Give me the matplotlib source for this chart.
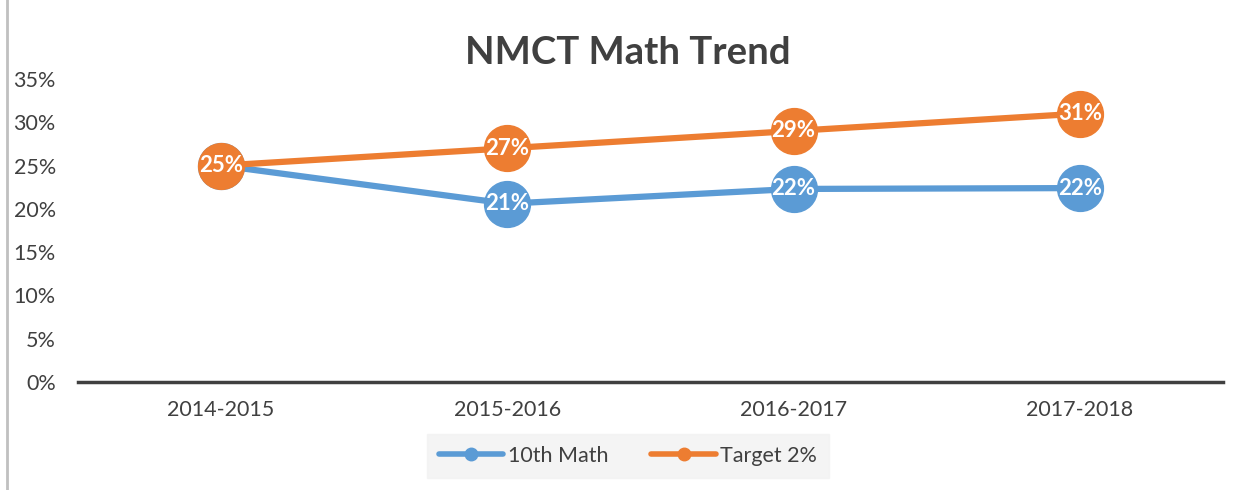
import matplotlib.pyplot as plt
from matplotlib.lines import Line2D

plt.rcParams['font.family'] = ['Lato', 'DejaVu Sans']

years = ['2014-2015', '2015-2016', '2016-2017', '2017-2018']
math_10th = [0.25, 0.206, 0.223, 0.224]
target_2pct = [0.25, 0.27, 0.29, 0.31]
yticks = [0, 0.05, 0.10, 0.15, 0.20, 0.25, 0.30, 0.35]

blue = '#5b9bd5'
orange = '#ed7d31'
text_grey = '#404040'

fig = plt.figure(figsize=(12.47, 4.90), dpi=100)
ax = fig.add_axes([78 / 1247, (490 - 382) / 490, (1223 - 78) / 1247, 303 / 490])

x = range(len(years))
ax.plot(x, math_10th, color=blue, lw=4.5, marker='o', ms=33, zorder=3, solid_capstyle='round')
ax.plot(x, target_2pct, color=orange, lw=4.5, marker='o', ms=33, zorder=4, solid_capstyle='round')

for xi, v in zip(x, math_10th):
    if xi == 0:
        continue
    ax.text(xi, v, f'{v:.0%}', ha='center', va='center', color='white',
            fontsize=16, fontweight='bold', zorder=5)
for xi, v in zip(x, target_2pct):
    ax.text(xi, v, f'{v:.0%}', ha='center', va='center', color='white',
            fontsize=16, fontweight='bold', zorder=6)

ax.set_xlim(-0.5, 3.5)
ax.set_ylim(0, 0.35)
ax.set_yticks(yticks)
ax.set_yticklabels([f'{t:.0%}' for t in yticks])
ax.set_xticks(list(x))
ax.set_xticklabels(years)
ax.tick_params(length=0, labelsize=15.5, labelcolor=text_grey)
ax.tick_params(axis='y', pad=16)
ax.tick_params(axis='x', pad=13)
for s in ['top', 'right', 'left']:
    ax.spines[s].set_visible(False)
ax.spines['bottom'].set_color(text_grey)
ax.spines['bottom'].set_linewidth(2.5)
ax.set_facecolor('none')

fig.text(628 / 1247, 1 - 53 / 490, 'NMCT Math Trend', ha='center', va='center',
         fontsize=27.5, fontweight='bold', color=text_grey)

handles = [
    Line2D([], [], color=blue, lw=4, marker='o', ms=9, solid_capstyle='round'),
    Line2D([], [], color=orange, lw=4, marker='o', ms=9, solid_capstyle='round'),
]
leg = fig.legend(handles, ['10th Math', 'Target 2%'], loc='center',
                 bbox_to_anchor=(628 / 1247, 1 - 456 / 490), ncol=2, frameon=True,
                 fontsize=15.5, handlelength=3.0, handletextpad=0.2, columnspacing=2.0,
                 borderpad=0.55, fancybox=False, labelcolor=text_grey)
leg.get_frame().set_facecolor('#f2f2f2')
leg.get_frame().set_edgecolor('#f2f2f2')

# chart border on the left
fig.add_artist(Line2D([7 / 1247, 7 / 1247], [0, 1], color='#c0c0c0', lw=2))

fig.savefig('out.png', dpi=100)
